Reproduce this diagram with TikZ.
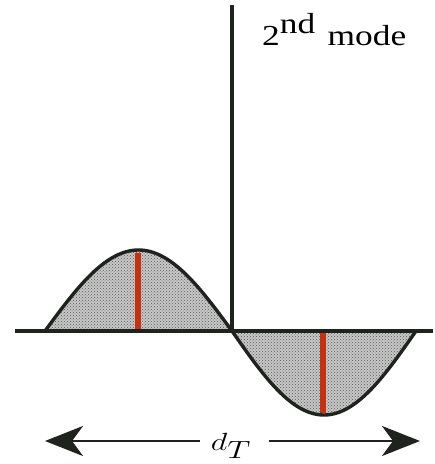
\documentclass[tikz,border=0pt]{standalone}
\usepackage{fontspec}
\newfontfamily\tnr{Liberation Serif}
\usetikzlibrary{arrows.meta,patterns}
\definecolor{redbar}{RGB}{195,50,20}
\definecolor{ink}{RGB}{30,35,30}
\begin{document}
\begin{tikzpicture}[x=1pt,y=-1pt,
  axisline/.style={line width=3.4pt,ink},
  hump/.style={line width=3.4pt,ink,preaction={fill=black!22},pattern=crosshatch dots,pattern color=black!65},
  redline/.style={line width=6pt,redbar},
  dimarrow/.style={line width=2.8pt,ink,-{Stealth[length=38pt,width=30pt,inset=11pt]}}]
\useasboundingbox (0,0) rectangle (435,464);
\fill[white] (0,0) rectangle (435,464);
% humps
\draw[hump] plot[domain=45:232,samples=80] (\x,{331-81*sin((\x-45)/187*180)}) -- cycle;
\draw[hump] plot[domain=232:416,samples=80] (\x,{331+84*sin((\x-232)/184*180)}) -- cycle;
% red bars
\coordinate (r1t) at (138,253);
\coordinate (r1b) at (138,331);
\coordinate (r2t) at (323,331);
\coordinate (r2b) at (323,413);
\draw[redline] (r1t) -- (r1b);
\draw[redline] (r2t) -- (r2b);
% axes
\coordinate (xl) at (15,331);
\coordinate (xr) at (433,331);
\coordinate (yt) at (232,5);
\coordinate (yb) at (232,331);
\draw[axisline] (xl) -- (xr);
\draw[axisline] (yt) -- (yb);
% label
\node[anchor=base west,inner sep=0pt,xscale=1.22] (mode) at (262,45)
  {\tnr\fontsize{29}{32}\selectfont 2\raisebox{12pt}{nd}\hspace{0.35em}mode};
% dimension arrow
\coordinate (al) at (45,441);
\coordinate (ar) at (420,441);
\node[anchor=base,inner sep=0pt,xscale=1.3] (dT) at (231,450) {\fontsize{24.88}{28}\selectfont $d_{\textstyle T}$};
\draw[dimarrow] ([xshift=-11pt]dT.west |- al) -- (al);
\draw[dimarrow] ([xshift=18pt]dT.east |- ar) -- (ar);
\end{tikzpicture}
\end{document}
